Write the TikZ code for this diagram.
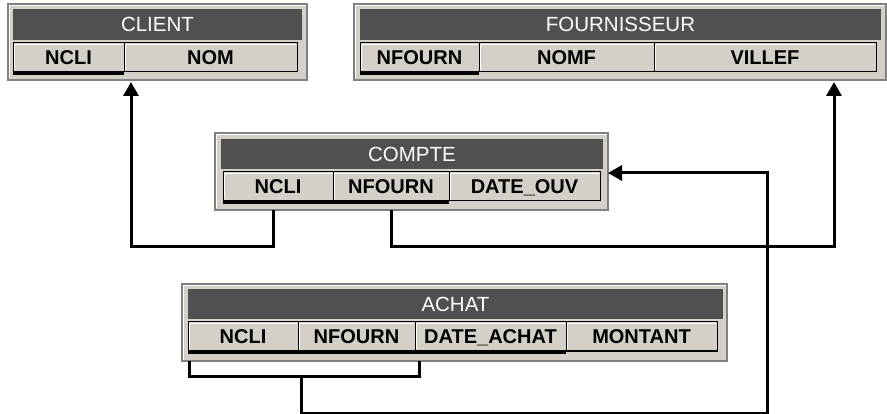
\documentclass[tikz,border=0pt]{standalone}
\usepackage{fontspec}
\setmainfont{Liberation Sans}
\newfontfamily\headfont{Liberation Sans}
\newfontfamily\colfont{Liberation Sans}
\usetikzlibrary{positioning,arrows.meta}
\definecolor{winGrey}{HTML}{D4D0C8}
\definecolor{headGrey}{HTML}{505050}
\definecolor{edgeGrey}{HTML}{808080}

\begin{document}
\begin{tikzpicture}[
    x=1pt, y=-1pt,
    bevel/.style={%
      path picture={\draw[white, line width=1.5]
        ([shift={(1.5,-1.5)}]path picture bounding box.south west) |-
        ([shift={(-1.5,1.5)}]path picture bounding box.north east);},
    },
  ]

\tikzstyle{frame} = [rectangle, anchor=north west, inner sep=0, outer sep=0, minimum height=76, fill=winGrey, draw=edgeGrey, line width=1.5, bevel]

\tikzstyle{head} = [rectangle, anchor=north west, inner sep=0, outer sep=0, minimum height=31, text height=14.5, text depth=0, fill=headGrey, text=white, font=\headfont\fontsize{20.5}{22}\selectfont]

\tikzstyle{cell} = [rectangle, anchor=north west, inner sep=0, outer sep=0, minimum height=29, text height=14.3, text depth=0, fill=winGrey, draw=black, line width=1, bevel, font=\colfont\bfseries\fontsize{20}{22}\selectfont]

\tikzstyle{key} = [line width=3.5, black]
\tikzstyle{link} = [line width=3, black]
\tikzstyle{fk} = [link, -{Triangle[length=14pt,width=15pt]}]

\useasboundingbox (0,0) rectangle (887,414);

    % CLIENT
    \node [frame, minimum width=299] (client) at (8,4) {};
    \node [head, minimum width=289] (cliHead) at (13,9) {CLIENT};
    \node [cell, minimum width=111] (cliNCLI) at (13,43) {NCLI};
    \node [cell, minimum width=173, right=0pt of cliNCLI] (cliNOM) {NOM};
    \draw [key] ([yshift=-1pt]cliNCLI.south west) -- ([yshift=-1pt]cliNCLI.south east);

    % FOURNISSEUR
    \node [frame, minimum width=532] (fourn) at (354,4) {};
    \node [head, minimum width=521] (fHead) at (360,9) {FOURNISSEUR};
    \node [cell, minimum width=119] (fNFOURN) at (360,43) {NFOURN};
    \node [cell, minimum width=175, right=0pt of fNFOURN] (fNOMF) {NOMF};
    \node [cell, minimum width=222, right=0pt of fNOMF] (fVILLEF) {VILLEF};
    \draw [key] ([yshift=-1pt]fNFOURN.south west) -- ([yshift=-1pt]fNFOURN.south east);

    % COMPTE
    \node [frame, minimum width=393, minimum height=77] (compte) at (215,133) {};
    \node [head, minimum width=382, minimum height=30] (cpHead) at (221,139) {COMPTE};
    \node [cell, minimum width=110] (cpNCLI) at (223,172) {NCLI};
    \node [cell, minimum width=116, right=0pt of cpNCLI] (cpNFOURN) {NFOURN};
    \node [cell, minimum width=151, right=0pt of cpNFOURN] (cpDATE) {DATE\_OUV};
    \draw [key] ([yshift=-1pt]cpNCLI.south west) -- ([yshift=-1pt]cpNFOURN.south east);

    % ACHAT
    \node [frame, minimum width=545, minimum height=77] (achat) at (182,284) {};
    \node [head, minimum width=535, minimum height=30] (aHead) at (188,289) {ACHAT};
    \node [cell, minimum width=110] (aNCLI) at (188,322) {NCLI};
    \node [cell, minimum width=117, right=0pt of aNCLI] (aNFOURN) {NFOURN};
    \node [cell, minimum width=151, right=0pt of aNFOURN] (aDATE) {DATE\_ACHAT};
    \node [cell, minimum width=151, right=0pt of aDATE] (aMONTANT) {MONTANT};
    \draw [key] ([yshift=-1pt]aNCLI.south west) -- ([yshift=-1pt]aDATE.south east);

    % references
    \coordinate (cliIn) at ([xshift=7pt]cliNOM.south west);
    \coordinate (fIn) at ([xshift=-52pt]fourn.south east);
    \coordinate (cpOut) at ([xshift=-5pt]cpNCLI.south);
    \coordinate (bend) at (767,173);
    \path (aNFOURN.south west) ++(3,26) coordinate (achatKey);

    \draw [fk, shorten >=2pt] (cpOut |- compte.south) -- ++(0,37) -| (cliIn |- client.south);
    \draw [fk, shorten >=2pt] (cpNFOURN.south |- compte.south) -- ++(0,37) -| (fIn);
    \draw [link] ([xshift=1pt]aNCLI.south west |- achat.south) -- ++(0,15) -| ([xshift=4pt]aNFOURN.south east |- achat.south);
    \draw [fk] (achatKey) -- ++(0,36) -| (bend) -- (bend -| compte.east);
\end{tikzpicture}
\end{document}
